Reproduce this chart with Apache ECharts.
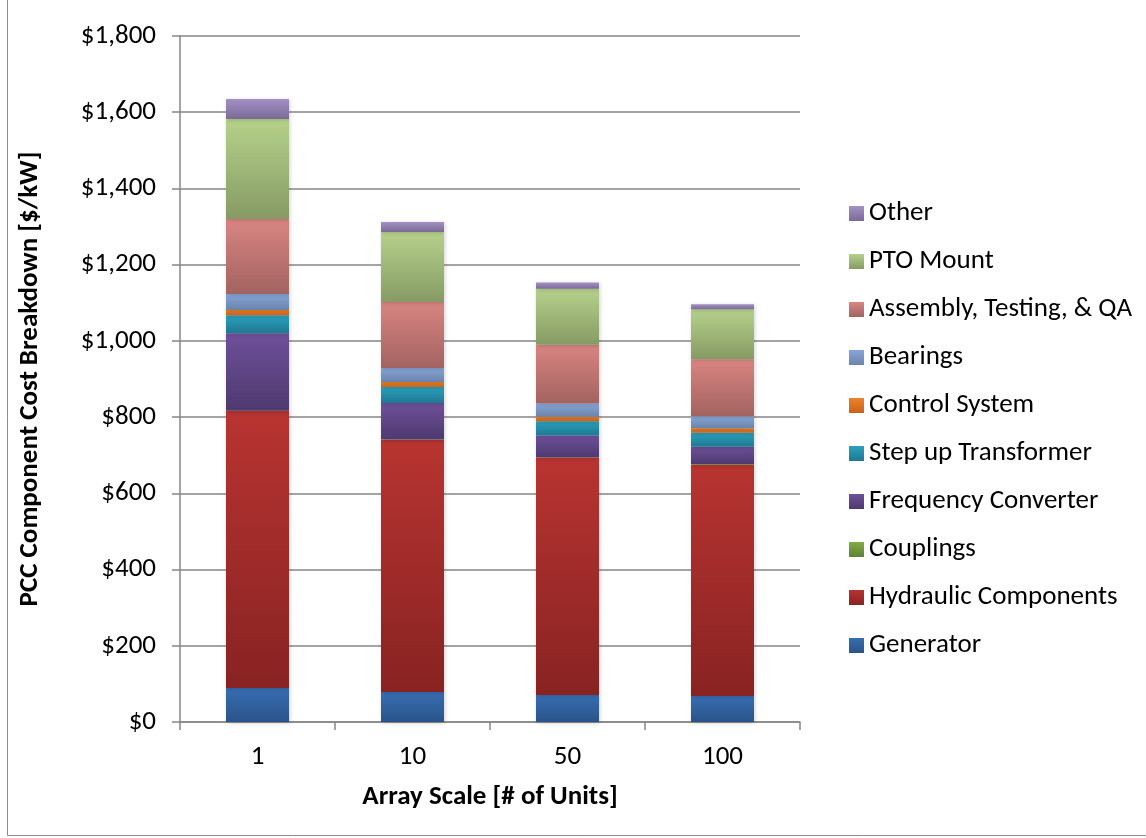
<!DOCTYPE html>
<html><head><meta charset="utf-8">
<script src="https://cdn.jsdelivr.net/npm/echarts@6/dist/echarts.min.js"></script>
<style>html,body{margin:0;padding:0;background:#fff}#c{width:1146px;height:838px}</style>
</head><body><div id="c"></div>
<script>
const categories = ['1', '10', '50', '100'];
const seriesNames = ['Generator', 'Hydraulic Components', 'Couplings', 'Frequency Converter', 'Step up Transformer', 'Control System', 'Bearings', 'Assembly, Testing, & QA', 'PTO Mount', 'Other'];
const generator = [89, 79, 71, 68];
const hydraulic = [727, 661, 623, 607];
const couplings = [1, 1, 1, 2];
const freqConverter = [203, 96, 57, 45];
const stepUp = [47, 42, 37, 37];
const controlSys = [14, 13, 12, 12];
const bearings = [42, 37, 35, 31];
const assembly = [197, 173, 154, 150];
const ptoMount = [262, 184, 147, 131];
const other = [53, 26, 16, 13];
const yTicks = [0, 200, 400, 600, 800, 1000, 1200, 1400, 1600, 1800];

const values = [generator, hydraulic, couplings, freqConverter, stepUp, controlSys, bearings, assembly, ptoMount, other];
const colors = [
  ['#376db2', '#2a5489'],
  ['#b83431', '#882322'],
  ['#80ad45', '#5e8232'],
  ['#6e509a', '#4e396f'],
  ['#2aa1be', '#1f7891'],
  ['#ee8226', '#c9621a'],
  ['#87a5d8', '#6a84ab'],
  ['#d98582', '#a26360'],
  ['#b6d18b', '#869b64'],
  ['#a390c6', '#7a6b95']
];
const fontFam = 'Carlito, Calibri, "Open Sans", "Liberation Sans", sans-serif';
const fs = 27;

const chart = echarts.init(document.getElementById('c'));
chart.setOption({
  animation: false,
  backgroundColor: '#fff',
  graphic: [{
    type: 'rect', shape: {x: 7.5, y: -1, width: 1200, height: 836.5},
    style: {fill: 'none', stroke: '#8c8c8c', lineWidth: 1}, silent: true
  }],
  grid: {left: 180, right: 346, top: 36, bottom: 116},
  legend: {
    orient: 'vertical', left: 844, top: 195,
    itemWidth: 15, itemHeight: 15, itemGap: 21,
    data: seriesNames.slice().reverse(),
    textStyle: {fontFamily: fontFam, fontSize: fs, color: '#000'},
    icon: 'rect'
  },
  xAxis: {
    type: 'category', data: categories,
    axisLine: {lineStyle: {color: '#868686', width: 1.5}},
    axisTick: {show: true, length: 8, lineStyle: {color: '#868686', width: 1.5}},
    axisLabel: {fontFamily: fontFam, fontSize: fs, color: '#000', margin: 22},
    name: 'Array Scale [# of Units]', nameLocation: 'middle', nameGap: 62,
    nameTextStyle: {fontFamily: fontFam, fontSize: fs, fontWeight: 'bold', color: '#000'}
  },
  yAxis: {
    type: 'value', min: 0, max: 1800, interval: 200,
    axisLine: {show: true, lineStyle: {color: '#868686', width: 1.5}},
    axisTick: {show: true, length: 8, lineStyle: {color: '#868686', width: 1.5}},
    splitLine: {lineStyle: {color: '#868686', width: 1.5}},
    axisLabel: {
      fontFamily: fontFam, fontSize: fs, color: '#000', margin: 24,
      formatter: v => yTicks.includes(v) ? '$' + v.toLocaleString('en-US') : ''
    },
    name: 'PCC Component Cost Breakdown [$/kW]', nameLocation: 'middle', nameGap: 136,
    nameTextStyle: {fontFamily: fontFam, fontSize: fs, fontWeight: 'bold', color: '#000'}
  },
  series: seriesNames.map((n, i) => ({
    name: n, type: 'bar', stack: 'total', barWidth: 63,
    data: values[i],
    itemStyle: {
      color: new echarts.graphic.LinearGradient(0, 0, 0, 1, [
        {offset: 0, color: colors[i][0]}, {offset: 1, color: colors[i][1]}
      ]),
      shadowColor: 'rgba(0,0,0,0.18)', shadowBlur: 4, shadowOffsetX: 1, shadowOffsetY: 1
    }
  }))
});
</script></body></html>
